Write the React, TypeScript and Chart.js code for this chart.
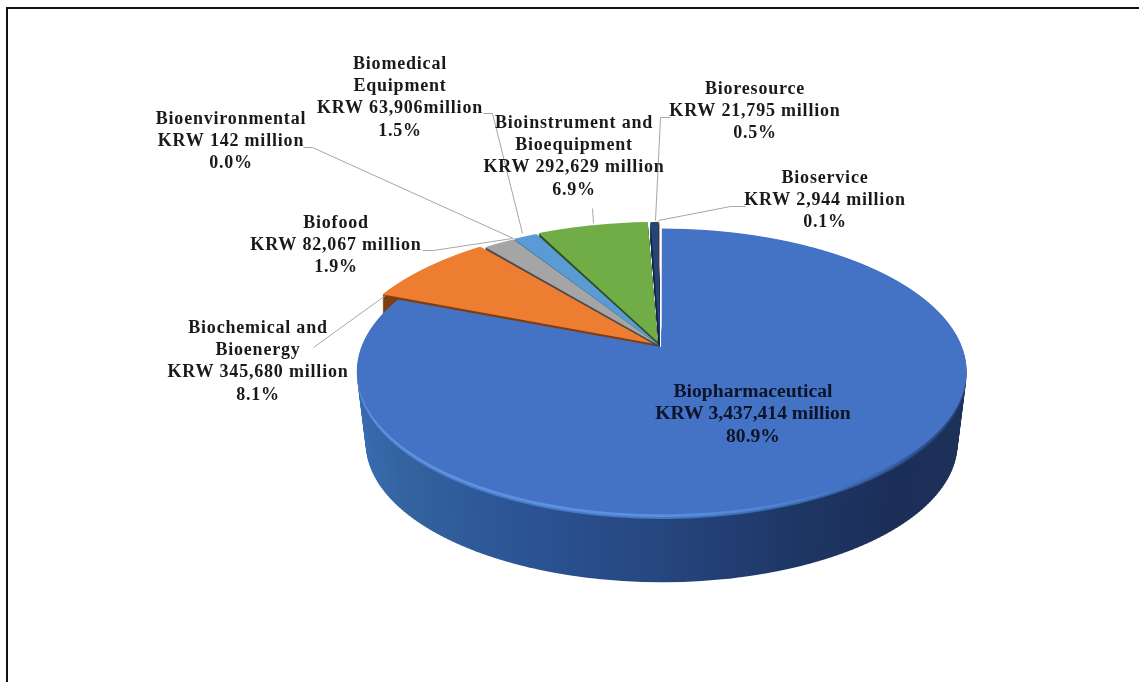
import React, { useEffect, useRef } from "react";
import { Chart, registerables } from "chart.js";

Chart.register(...registerables);

const categories = [
  "Biopharmaceutical",
  "Biochemical and Bioenergy",
  "Biofood",
  "Bioenvironmental",
  "Biomedical Equipment",
  "Bioinstrument and Bioequipment",
  "Bioresource",
  "Bioservice",
];
const valuesMillionKRW = [3437414, 345680, 82067, 142, 63906, 292629, 21795, 2944];
const sliceColors = ["#4472c4", "#ed7d31", "#a5a5a5", "#ffc000", "#5b9bd5", "#70ad47", "#264478", "#c9a27e"];
const cutFaceColors = ["#1f3864", "#7f3f10", "#4a4a4a", "#7f6000", "#2a5b86", "#2f4f1e", "#14264a", "#c9a27e"];
const sliceOffsets = [12, 36, 6, 8, 8, 36, 8, 8];
const sliceGrow = [1, 1.03, 1.05, 1.05, 1.05, 1.02, 1.055, 1.055];

const labelLines = [
  ["Biopharmaceutical", "KRW 3,437,414 million", "80.9%"],
  ["Biochemical and", "Bioenergy", "KRW 345,680 million", "8.1%"],
  ["Biofood", "KRW 82,067 million", "1.9%"],
  ["Bioenvironmental", "KRW 142 million", "0.0%"],
  ["Biomedical", "Equipment", "KRW 63,906million", "1.5%"],
  ["Bioinstrument and", "Bioequipment", "KRW 292,629 million", "6.9%"],
  ["Bioresource", "KRW 21,795 million", "0.5%"],
  ["Bioservice", "KRW 2,944 million", "0.1%"],
];
// layout of the callouts (centre x, first line y)
const labelAnchors = [
  [753, 392],
  [258, 328],
  [336, 223],
  [231, 119],
  [400, 64],
  [574, 123],
  [755, 89],
  [825, 178],
];
const leaderPaths = [
  [[313, 347], [385, 295]],
  [[422, 250], [433, 250], [512, 238]],
  [[303, 147], [312, 147], [513, 238]],
  [[483, 113], [492, 113], [522, 233]],
  [[592, 208], [593, 223]],
  [[670, 117], [660, 117], [655, 220]],
  [[745, 206], [730, 206], [658, 220]],
];

// perspective of the tilted pie
const PERSP = 0.168;
const XAXIS = 297 / 300;
const YAXIS = 137 / 300;
const WALL_DROP = 73;
const WALL_SHRINK = 0.03;
const BACK_WALL_DEPTH = 19;

function drawProjected(ctx: any, arc: any, o: { dy: number; s: number; yStart: number; yEnd: number; step: number; grow: number }) {
  const R = arc.outerRadius;
  const A = XAXIS * R;
  const B = YAXIS * R;
  const cxL = arc.x;
  const cyL = arc.y + o.dy;
  const toSrc = (y: number) => {
    const Y = (y - cyL) / o.s;
    return Y / (B + PERSP * Y);
  };
  const W = ctx.canvas.width;
  for (let y = Math.round(cyL + o.yStart); y < cyL + o.yEnd; y += o.step) {
    const v0 = toSrc(y);
    const v1 = toSrc(y + o.step);
    const vm = (v0 + v1) / 2;
    const src0 = (v0 * R) / o.grow;
    const src1 = (v1 * R) / o.grow;
    const xs = ((o.s * A) / R) * o.grow / (1 - PERSP * vm);
    const ys = o.step / (src1 - src0);
    ctx.save();
    ctx.beginPath();
    ctx.rect(0, y, W, o.step);
    ctx.clip();
    ctx.translate(cxL, y);
    ctx.scale(xs, ys);
    ctx.translate(-arc.x, -(arc.y + src0));
    arc.draw(ctx);
    ctx.restore();
  }
}

function recoloured(arc: any, fill: any) {
  const clone = Object.create(arc);
  clone.options = { ...arc.options, backgroundColor: fill };
  return clone;
}

function sideGradient(ctx: any, arc: any, stops: [number, string][]) {
  const R = arc.outerRadius;
  const g = ctx.createLinearGradient(arc.x - R, 0, arc.x + R, 0);
  stops.forEach(([p, c]) => g.addColorStop(p, c));
  return g;
}

const tiltedPie = {
  id: "tiltedPie",
  beforeDatasetDraw(chart: any) {
    const ctx = chart.ctx;
    const arcs = chart.getDatasetMeta(0).data;
    // back slices first, the big slice last
    for (let i = arcs.length - 1; i >= 1; i--) {
      const arc = arcs[i];
      const wall = recoloured(arc, cutFaceColors[i]);
      for (let t = BACK_WALL_DEPTH; t >= 1; t--) {
        drawProjected(ctx, wall, { dy: t, s: 1, yStart: -135, yEnd: 15, step: 2, grow: sliceGrow[i] });
      }
      drawProjected(ctx, arc, { dy: 0, s: 1, yStart: -135, yEnd: 15, step: 1, grow: sliceGrow[i] });
    }
    const main = arcs[0];
    const wallFill = sideGradient(ctx, main, [
      [0, "#3a6cb5"],
      [0.1, "#34649f"],
      [0.28, "#2c5596"],
      [0.5, "#26467f"],
      [0.68, "#1f3766"],
      [0.85, "#1b2e58"],
      [1, "#1d3259"],
    ]);
    const rimFill = sideGradient(ctx, main, [
      [0, "#5e95e0"],
      [0.5, "#5b90e0"],
      [0.72, "#4a7ccc"],
      [0.9, "#2d4f8e"],
      [1, "#24406f"],
    ]);
    const softRimFill = sideGradient(ctx, main, [
      [0, "#4c80cc"],
      [0.5, "#4778c4"],
      [0.72, "#3a66ac"],
      [0.9, "#24406f"],
      [1, "#1f3864"],
    ]);
    const wallArc = recoloured(main, wallFill);
    const rimArc = recoloured(main, rimFill);
    const softRimArc = recoloured(main, softRimFill);
    for (let t = WALL_DROP; t >= 1; t--) {
      const f = t / WALL_DROP;
      const layer = t <= 3 ? rimArc : t <= 5 ? softRimArc : wallArc;
      drawProjected(ctx, layer, {
        dy: WALL_DROP * f,
        s: 1 - WALL_SHRINK * f,
        yStart: -20,
        yEnd: 190,
        step: 2,
        grow: sliceGrow[0],
      });
    }
    drawProjected(ctx, main, { dy: 0, s: 1, yStart: -130, yEnd: 190, step: 1, grow: sliceGrow[0] });
    return false;
  },
  afterDatasetsDraw(chart: any) {
    const ctx = chart.ctx;
    ctx.save();
    // frame
    ctx.fillStyle = "#111111";
    ctx.fillRect(6, 7, chart.width - 6, 2);
    ctx.fillRect(6, 7, 2, chart.height - 7);
    // leader lines
    ctx.strokeStyle = "#a6a6a6";
    ctx.lineWidth = 1;
    leaderPaths.forEach((path) => {
      ctx.beginPath();
      path.forEach(([x, y], i) => (i ? ctx.lineTo(x + 0.5, y + 0.5) : ctx.moveTo(x + 0.5, y + 0.5)));
      ctx.stroke();
    });
    // callouts
    ctx.textAlign = "center";
    ctx.textBaseline = "middle";
    labelLines.forEach((lines, i) => {
      const [x, y] = labelAnchors[i];
      const isMain = i === 0;
      ctx.font = isMain ? 'bold 19.6px "Liberation Serif"' : 'bold 18px "Liberation Serif"';
      ctx.letterSpacing = isMain ? "0px" : "0.8px";
      ctx.fillStyle = isMain ? "#0c1428" : "#1a1a1a";
      lines.forEach((line, j) => ctx.fillText(line, x, y + j * 22.3));
    });
    ctx.restore();
  },
};

export default function App() {
  const ref = useRef<HTMLCanvasElement | null>(null);
  useEffect(() => {
    const chart = new Chart(ref.current as any, {
      type: "pie",
      data: {
        labels: categories,
        datasets: [
          {
            data: valuesMillionKRW,
            backgroundColor: sliceColors,
            borderWidth: 0,
            offset: sliceOffsets,
            clip: false,
          } as any,
        ],
      },
      options: {
        responsive: false,
        animation: false,
        layout: { padding: { left: 342, right: 161, top: 28, bottom: 18 } },
        plugins: { legend: { display: false }, tooltip: { enabled: false } },
      },
      plugins: [tiltedPie as any],
    });
    return () => chart.destroy();
  }, []);
  return (
    <div style={{ position: "fixed", left: 0, top: 0, width: 1139, height: 682, background: "#ffffff" }}>
      <canvas ref={ref} width={1139} height={682} style={{ display: "block" }} />
    </div>
  );
}
